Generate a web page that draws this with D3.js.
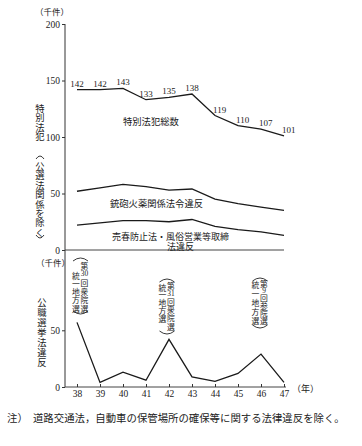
<!DOCTYPE html>
<html>
<head>
<meta charset="utf-8">
<script src="https://cdn.jsdelivr.net/npm/d3@7"></script>
<style>
  body { margin: 0; background: #fff; }
  svg { display: block; }
  .jp { font-family: "Noto Sans CJK JP", sans-serif; fill: #222; }
  .num { font-family: "Liberation Serif", serif; fill: #222; }
  .axis text { font-family: "Liberation Serif", serif; fill: #222; }
  .axis line { stroke: #333; }
</style>
</head>
<body>
<svg id="chart" width="362" height="446"></svg>
<script>
var years = [38, 39, 40, 41, 42, 43, 44, 45, 46, 47];
var totalValues = [142, 142, 143, 133, 135, 138, 119, 110, 107, 101];
var firearmsValues = [52, 55, 58, 56, 53, 54, 45, 41, 38, 35];
var prostitutionValues = [22, 24, 26, 26, 25, 27, 21, 18, 16, 13];
var electionValues = [57, 4, 13, 6, 42, 9, 5, 12, 29, 4];
var topTicks = [0, 50, 100, 150, 200];
var bottomTicks = [0, 50];
var annotations = [
    { year: 38, right: ["第", "30", "回", "衆", "院", "選"], left: ["統", "一", "地", "方", "選"] },
    { year: 42, right: ["第", "31", "回", "衆", "院", "選"], left: ["統", "一", "地", "方", "選"] },
    { year: 46, right: ["第", "9", "回", "参", "院", "選"], left: ["統", "一", "地", "方", "選"] }
];

var svg = d3.select("#chart");

var x = d3.scaleLinear().domain([38, 47]).range([77, 284]);
var yTop = d3.scaleLinear().domain([0, 200]).range([250, 24]);
var yBot = d3.scaleLinear().domain([0, 50]).range([387, 330.3]);

// vertical axis line for both panels
svg.append("line")
    .attr("x1", 65).attr("x2", 65)
    .attr("y1", yTop(200)).attr("y2", yBot(0))
    .attr("stroke", "#333").attr("stroke-width", 1);

// left axes
svg.append("g")
    .attr("class", "axis")
    .attr("transform", "translate(65,0)")
    .call(d3.axisLeft(yTop).tickValues(topTicks).tickSize(3).tickPadding(2))
    .call(function(g) { g.select(".domain").remove(); })
    .selectAll("text").attr("font-size", 9.5);

svg.append("g")
    .attr("class", "axis")
    .attr("transform", "translate(65,0)")
    .call(d3.axisLeft(yBot).tickValues(bottomTicks).tickSize(3).tickPadding(2))
    .call(function(g) { g.select(".domain").remove(); })
    .selectAll("text").attr("font-size", 9.5);

// top panel baseline
svg.append("line")
    .attr("x1", 65).attr("x2", x(47))
    .attr("y1", yTop(0)).attr("y2", yTop(0))
    .attr("stroke", "#444").attr("stroke-width", 1);

// bottom x axis
svg.append("line")
    .attr("x1", 65).attr("x2", x(47) + 2)
    .attr("y1", yBot(0)).attr("y2", yBot(0))
    .attr("stroke", "#444").attr("stroke-width", 1);

svg.append("g")
    .attr("class", "axis")
    .attr("transform", "translate(0," + yBot(0) + ")")
    .call(d3.axisBottom(x).tickValues(years).tickSize(-3).tickPadding(3).tickFormat(d3.format("d")))
    .call(function(g) { g.select(".domain").remove(); })
    .selectAll("text").attr("font-size", 9.5);

svg.append("text").attr("class", "jp")
    .attr("x", 292).attr("y", 392).attr("font-size", 9)
    .text("（年）");

// unit labels
svg.append("text").attr("class", "jp")
    .attr("x", 35).attr("y", 15).attr("font-size", 8.5)
    .text("（千件）");
svg.append("text").attr("class", "jp")
    .attr("x", 36).attr("y", 266).attr("font-size", 8.5)
    .text("（千件）");

// lines
var line = function(scale, values) {
    return d3.line()
        .x(function(d, i) { return x(years[i]); })
        .y(function(d) { return scale(d); })(values);
};

[[yTop, totalValues], [yTop, firearmsValues], [yTop, prostitutionValues], [yBot, electionValues]]
    .forEach(function(s) {
        svg.append("path")
            .attr("d", line(s[0], s[1]))
            .attr("fill", "none")
            .attr("stroke", "#1a1a1a")
            .attr("stroke-width", 1.3);
    });

// value labels on total line
svg.selectAll(".vlabel")
    .data(totalValues)
    .enter().append("text")
    .attr("class", "num vlabel")
    .attr("font-size", 9)
    .attr("x", function(d, i) { return i < 6 ? x(years[i]) : x(years[i]) - 2; })
    .attr("y", function(d) { return yTop(d) - 3; })
    .attr("text-anchor", function(d, i) { return i < 6 ? "middle" : "start"; })
    .text(function(d) { return d; });

// series names
svg.append("text").attr("class", "jp").attr("font-size", 9.3)
    .attr("x", 123).attr("y", 125).text("特別法犯総数");
svg.append("text").attr("class", "jp").attr("font-size", 9.3)
    .attr("x", 110).attr("y", 207).text("銃砲火薬関係法令違反");
svg.append("text").attr("class", "jp").attr("font-size", 9)
    .attr("x", 112).attr("y", 240).text("売春防止法・風俗営業等取締");
svg.append("text").attr("class", "jp").attr("font-size", 9)
    .attr("x", 167).attr("y", 249.5).text("法違反");

// vertical text, one element per character (digits set sideways-free, small)
function vText(tokens, cx, y0, step, fs) {
    tokens.forEach(function(t, i) {
        var digits = /^[0-9]+$/.test(t);
        svg.append("text").attr("class", digits ? "num" : "jp")
            .attr("x", cx).attr("y", y0 + i * step)
            .attr("text-anchor", "middle")
            .attr("dominant-baseline", "central")
            .attr("font-size", digits ? fs * 0.95 : fs)
            .text(t);
    });
}

function bracket(cx, top, bottom, w) {
    svg.append("path")
        .attr("d", "M" + (cx - w) + "," + (top + 3) + " Q" + cx + "," + (top - 3) + " " + (cx + w) + "," + (top + 3))
        .attr("fill", "none").attr("stroke", "#222").attr("stroke-width", 0.9);
    svg.append("path")
        .attr("d", "M" + (cx - w) + "," + (bottom - 3) + " Q" + cx + "," + (bottom + 3) + " " + (cx + w) + "," + (bottom - 3))
        .attr("fill", "none").attr("stroke", "#222").attr("stroke-width", 0.9);
}

// y axis titles
vText("特別法犯".split(""), 40, 108, 9.4, 9.3);
bracket(40, 156, 238, 4);
vText("公選法関係を除く".split(""), 40, 166, 9.4, 9.3);
vText("公職選挙法違反".split(""), 42, 302, 10, 9.3);

// election annotations
var annLayout = [
    { dx: 3.5, top: 258, bottom: 314, rStart: 265, rStep: 8.7, lStart: 275, lStep: 8.3 },
    { dx: -2, top: 279, bottom: 334, rStart: 285, rStep: 8.2, lStart: 287, lStep: 7.8 },
    { dx: -1, top: 278, bottom: 328, rStart: 283, rStep: 7.4, lStart: 284, lStep: 9 }
];
annotations.forEach(function(a, i) {
    var L = annLayout[i];
    var cx = x(a.year) + L.dx;
    bracket(cx, L.top, L.bottom, 7.5);
    vText(a.right, cx + 4, L.rStart, L.rStep, 7.8);
    vText(a.left, cx - 4.5, L.lStart, L.lStep, 7.8);
});

// footnote
svg.append("text").attr("class", "jp").attr("font-size", 10.4)
    .attr("x", 7).attr("y", 422)
    .text("注）　道路交通法，自動車の保管場所の確保等に関する法律違反を除く。");
</script>
</body>
</html>
